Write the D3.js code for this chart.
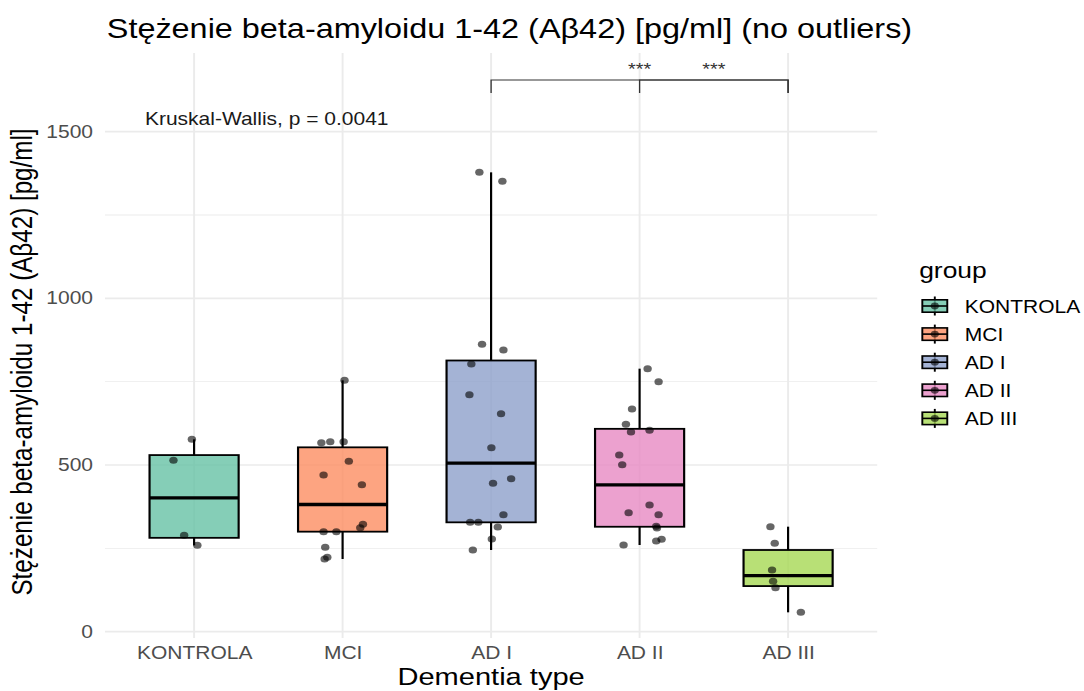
<!DOCTYPE html>
<html>
<head>
<meta charset="utf-8">
<script src="https://cdn.jsdelivr.net/npm/d3@7"></script>
<style>
  html, body { margin: 0; padding: 0; background: #fff; }
  svg { display: block; }
  text { font-family: "Liberation Sans", Arial, Helvetica, sans-serif; }
</style>
</head>
<body>
<svg id="chart" width="1084" height="691"></svg>
<script>
// Groups and their colours (Set2 palette)
const groups = ["KONTROLA", "MCI", "AD I", "AD II", "AD III"];
const groupColors = ["#66C2A5", "#FC8D62", "#8DA0CB", "#E78AC3", "#A6D854"];

// Aβ42 concentration per patient [pg/ml]
const kontrola = [577, 514, 289, 259];
const mci = [754, 567, 570, 570, 511, 470, 441, 322, 312, 300, 300, 253, 223, 218];
const adI = [1378, 1351, 862, 845, 803, 711, 654, 552, 459, 445, 351, 328, 328, 314, 278, 245];
const adII = [789, 750, 668, 622, 599, 604, 530, 501, 380, 357, 351, 316, 311, 277, 272, 260];
const adIII = [315, 265, 185, 151, 132, 58];

// Horizontal jitter of each point, as a fraction of the category step
const kontrolaJitter = [-0.015, -0.139, -0.067, 0.022];
const mciJitter = [0.013, -0.143, -0.083, 0.007, 0.042, -0.128, 0.130, 0.137, 0.119, -0.128, -0.042, -0.117, -0.103, -0.121];
const adIJitter = [-0.079, 0.076, -0.061, 0.083, -0.133, -0.146, 0.067, 0.002, 0.135, 0.013, 0.083, -0.141, -0.086, 0.045, 0.005, -0.123];
const adIIJitter = [0.054, 0.128, -0.051, -0.092, -0.058, 0.067, -0.137, -0.117, 0.067, -0.074, 0.128, 0.112, 0.117, 0.148, 0.112, -0.108];
const adIIIJitter = [-0.119, -0.090, -0.108, -0.101, -0.085, 0.086];

// Axis ticks
const yTicks = [0, 500, 1000, 1500];
const yMinorTicks = [250, 750, 1250];

// Pairwise comparisons shown above the boxes
const comparisons = [["AD I", "AD III", "***"], ["AD II", "AD III", "***"]];
const bracketValue = 1655;
const bracketTipValue = 1616;

// Text
const titleText = "Stężenie beta-amyloidu 1-42 (Aβ42) [pg/ml] (no outliers)";
const yTitle = "Stężenie beta-amyloidu 1-42 (Aβ42) [pg/ml]";
const xTitle = "Dementia type";
const legendTitle = "group";
const testLabel = "Kruskal-Wallis, p = 0.0041";
const testLabelValue = 1520;

const seriesValues = [kontrola, mci, adI, adII, adIII];
const seriesJitter = [kontrolaJitter, mciJitter, adIJitter, adIIJitter, adIIIJitter];

// ---- layout (drawn in a horizontally widened frame) ----
const SX = 1.2;
const panel = { left: 87.5, right: 731, top: 53, bottom: 638 };

const svg = d3.select("#chart");
const root = svg.append("g").attr("transform", `scale(${SX},1)`);

const x = d3.scalePoint().domain(groups).range([panel.left, panel.right]).padding(0.6);
const step = x.step();
const y = d3.scaleLinear().domain([-19, 1736]).range([panel.bottom, panel.top]);
const color = d3.scaleOrdinal().domain(groups).range(groupColors);

// grid
const grid = root.append("g");
grid.selectAll("line.minor").data(yMinorTicks).join("line")
  .attr("x1", panel.left).attr("x2", panel.right)
  .attr("y1", d => y(d)).attr("y2", d => y(d))
  .attr("stroke", "#EBEBEB").attr("stroke-width", 0.9);
grid.selectAll("line.major").data(yTicks).join("line")
  .attr("x1", panel.left).attr("x2", panel.right)
  .attr("y1", d => y(d)).attr("y2", d => y(d))
  .attr("stroke", "#EBEBEB").attr("stroke-width", 1.6);
grid.selectAll("line.vmajor").data(groups).join("line")
  .attr("x1", d => x(d)).attr("x2", d => x(d))
  .attr("y1", panel.top).attr("y2", panel.bottom)
  .attr("stroke", "#EBEBEB").attr("stroke-width", 1.6);

// axes (labels only, like theme_minimal)
const yAxis = d3.axisLeft(y).tickValues(yTicks).tickFormat(d3.format("d")).tickSize(0).tickPadding(10);
root.append("g").attr("transform", `translate(${panel.left},0)`).call(yAxis)
  .call(g => g.select(".domain").remove())
  .call(g => g.selectAll("text").attr("font-size", 17.5).attr("fill", "#4D4D4D")
    .attr("font-family", "Liberation Sans, Arial, sans-serif"));

const xAxis = d3.axisBottom(x).tickSize(0).tickPadding(9);
root.append("g").attr("transform", `translate(0,${panel.bottom})`).call(xAxis)
  .call(g => g.select(".domain").remove())
  .call(g => g.selectAll("text").attr("font-size", 17.5).attr("fill", "#4D4D4D")
    .attr("font-family", "Liberation Sans, Arial, sans-serif"));

// box statistics
const stats = groups.map((gname, i) => {
  const v = seriesValues[i].slice().sort(d3.ascending);
  const q1 = d3.quantile(v, 0.25), med = d3.quantile(v, 0.5), q3 = d3.quantile(v, 0.75);
  const iqr = q3 - q1;
  const lo = d3.min(v.filter(d => d >= q1 - 1.5 * iqr));
  const hi = d3.max(v.filter(d => d <= q3 + 1.5 * iqr));
  return { group: gname, q1, med, q3, lo, hi };
});

const boxW = 0.6 * step;
const boxes = root.append("g");
const bg = boxes.selectAll("g").data(stats).join("g");
bg.append("line")
  .attr("x1", d => x(d.group)).attr("x2", d => x(d.group))
  .attr("y1", d => y(d.q3)).attr("y2", d => y(d.hi))
  .attr("stroke", "#000").attr("stroke-width", 1.8);
bg.append("line")
  .attr("x1", d => x(d.group)).attr("x2", d => x(d.group))
  .attr("y1", d => y(d.q1)).attr("y2", d => y(d.lo))
  .attr("stroke", "#000").attr("stroke-width", 1.8);
bg.append("rect")
  .attr("x", d => x(d.group) - boxW / 2).attr("width", boxW)
  .attr("y", d => y(d.q3)).attr("height", d => y(d.q1) - y(d.q3))
  .attr("fill", d => color(d.group)).attr("fill-opacity", 0.8)
  .attr("stroke", "#000").attr("stroke-width", 1.8);
bg.append("line")
  .attr("x1", d => x(d.group) - boxW / 2).attr("x2", d => x(d.group) + boxW / 2)
  .attr("y1", d => y(d.med)).attr("y2", d => y(d.med))
  .attr("stroke", "#000").attr("stroke-width", 3.4);

// jittered points
const pts = [];
groups.forEach((gname, i) => seriesValues[i].forEach((v, j) =>
  pts.push({ group: gname, value: v, jit: seriesJitter[i][j] })));
root.append("g").selectAll("circle").data(pts).join("circle")
  .attr("cx", d => x(d.group) + d.jit * step)
  .attr("cy", d => y(d.value))
  .attr("r", 3.5)
  .attr("fill", "#000").attr("fill-opacity", 0.6);

// significance brackets
const br = root.append("g");
comparisons.forEach(([a, b, lab]) => {
  const x1 = x(a), x2 = x(b);
  br.append("path")
    .attr("d", `M${x1},${y(bracketTipValue)}V${y(bracketValue)}H${x2}V${y(bracketTipValue)}`)
    .attr("fill", "none").attr("stroke", "#333").attr("stroke-width", 1.1);
  br.append("text")
    .attr("x", (x1 + x2) / 2).attr("y", y(bracketValue) - 5)
    .attr("text-anchor", "middle").attr("font-size", 16.5).attr("fill", "#333")
    .text(lab);
});

// Kruskal-Wallis label
root.append("text")
  .attr("x", 120.8).attr("y", y(testLabelValue))
  .attr("font-size", 17.5).attr("fill", "#1a1a1a")
  .text(testLabel);

// titles
root.append("text").attr("x", panel.left + 1.5).attr("y", 38)
  .attr("font-size", 27).attr("fill", "#000").text(titleText);

root.append("text")
  .attr("transform", `translate(27,362) rotate(-90)`)
  .attr("text-anchor", "middle").attr("font-size", 24.2).attr("fill", "#000")
  .text(yTitle);

root.append("text")
  .attr("x", (panel.left + panel.right) / 2).attr("y", 685)
  .attr("text-anchor", "middle").attr("font-size", 24.2).attr("fill", "#000")
  .text(xTitle);

// legend
const legend = root.append("g");
legend.append("text").attr("x", 766).attr("y", 278).attr("font-size", 22)
  .attr("fill", "#000").text(legendTitle);
const keyStep = 28.1, keyCx = 779, keyTop = 306;
const keys = legend.selectAll("g.key").data(groups).join("g")
  .attr("transform", (d, i) => `translate(${keyCx},${keyTop + i * keyStep})`);
keys.append("line").attr("x1", 0).attr("x2", 0).attr("y1", -9.5).attr("y2", 9.5)
  .attr("stroke", "#000").attr("stroke-width", 1.6);
keys.append("rect").attr("x", -10.4).attr("y", -6.2).attr("width", 20.8).attr("height", 12.4)
  .attr("fill", d => color(d)).attr("fill-opacity", 0.8)
  .attr("stroke", "#000").attr("stroke-width", 1.6);
keys.append("line").attr("x1", -10.4).attr("x2", 10.4).attr("y1", 0).attr("y2", 0)
  .attr("stroke", "#000").attr("stroke-width", 1.6);
keys.append("circle").attr("r", 3.4).attr("fill", "#000").attr("fill-opacity", 0.6);
keys.append("text").attr("x", 25).attr("y", 6.5).attr("font-size", 17.5)
  .attr("fill", "#000").text(d => d);
</script>
</body>
</html>
